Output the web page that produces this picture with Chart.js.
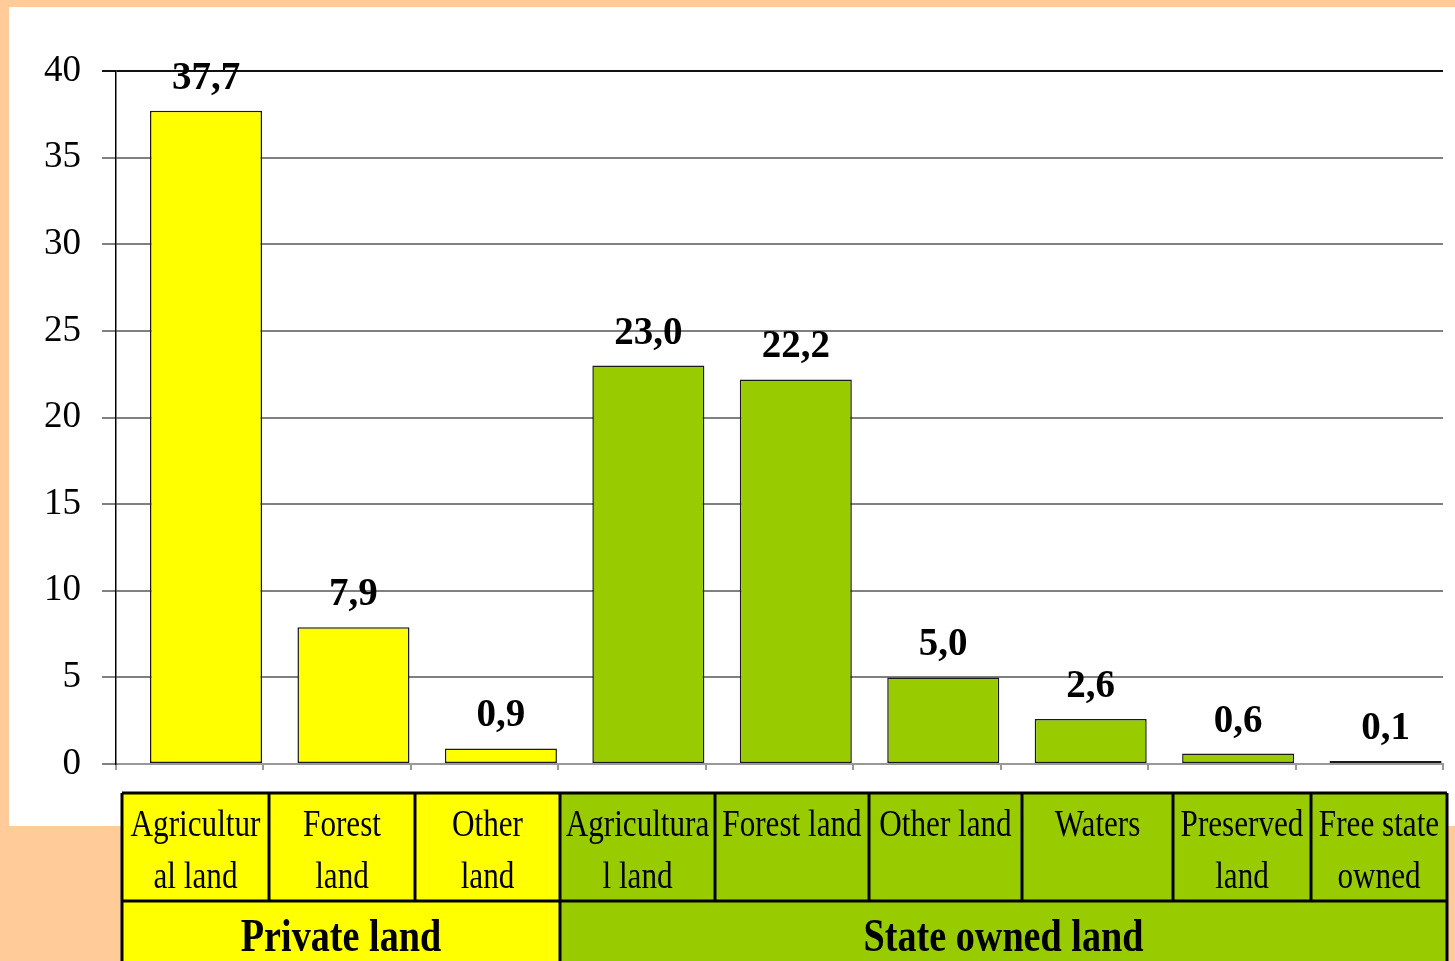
<!DOCTYPE html>
<html><head><meta charset="utf-8">
<script src="https://cdn.jsdelivr.net/npm/chart.js@4"></script>
<style>html,body{margin:0;padding:0;background:#FFCC99;overflow:hidden}#wrap{position:absolute;left:0;top:0;width:1455px;height:961px}</style>
</head><body><div id="wrap"><canvas id="c" width="1455" height="961"></canvas></div>
<script>
// ---- data ----
const categories = ["Agricultural land","Forest land","Other land","Agricultural land","Forest land","Other land","Waters","Preserved land","Free state owned"];
const categoryLines = [["Agricultur","al land"],["Forest","land"],["Other","land"],["Agricultura","l land"],["Forest land"],["Other land"],["Waters"],["Preserved","land"],["Free state","owned"]];
const values = [37.7, 7.9, 0.9, 23.0, 22.2, 5.0, 2.6, 0.6, 0.1];
const spacer = [null, null, null, null, null, null, null, null, null]; // empty slot that pushes the bars right of the category centre, as in the source
const groups = ["Private land", "State owned land"];
const groupSizes = [3, 6];
const yMin = 0, yMax = 40, yStep = 5;

// ---- layout / style ----
const PEACH = "#FFCC99", YELLOW = "#FFFF00", GREEN = "#99CC00";
const groupColors = [YELLOW, GREEN];
const TABLE_COLS = [122, 269, 415, 560, 715, 869, 1022, 1173, 1311, 1447];
const TABLE_ROWS = [793, 901, 980];
const SERIF = "'Liberation Serif','Times New Roman',serif";

const barGroupIndex = [];
groupSizes.forEach((n, g) => { for (let i = 0; i < n; i++) barGroupIndex.push(g); });

const bgPlugin = {
  id: 'bg',
  beforeDraw(chart) {
    const ctx = chart.ctx;
    ctx.save();
    ctx.fillStyle = PEACH;
    ctx.fillRect(0, 0, chart.width, chart.height);
    ctx.fillStyle = "#FFFFFF";
    ctx.fillRect(9, 7, chart.width - 9, 819);
    ctx.restore();
  }
};

const labelPlugin = {
  id: 'vals',
  afterDatasetsDraw(chart) {
    const ctx = chart.ctx;
    const meta = chart.getDatasetMeta(1);
    ctx.save();
    ctx.font = "bold 39px " + SERIF;
    ctx.fillStyle = "#000";
    ctx.textAlign = "center";
    ctx.textBaseline = "alphabetic";
    meta.data.forEach((bar, i) => {
      const txt = values[i].toFixed(1).replace('.', ',');
      ctx.fillText(txt, bar.x, bar.y - 22);
    });
    const area = chart.chartArea;
    ctx.strokeStyle = "#999999";
    ctx.lineWidth = 2;
    ctx.beginPath();
    ctx.moveTo(area.right, area.bottom);
    ctx.lineTo(area.right, area.bottom + 6);
    ctx.stroke();
    ctx.restore();
  }
};

function drawScaledText(ctx, txt, x, y, sx) {
  ctx.save();
  ctx.translate(x, y);
  ctx.scale(sx, 1);
  ctx.fillText(txt, 0, 0);
  ctx.restore();
}

const tablePlugin = {
  id: 'table',
  afterDraw(chart) {
    const ctx = chart.ctx;
    const C = TABLE_COLS, R = TABLE_ROWS;
    ctx.save();
    for (let i = 0; i < categories.length; i++) {
      ctx.fillStyle = groupColors[barGroupIndex[i]];
      ctx.fillRect(C[i], R[0], C[i + 1] - C[i], R[1] - R[0]);
    }
    let start = 0;
    groupSizes.forEach((n, g) => {
      ctx.fillStyle = groupColors[g];
      ctx.fillRect(C[start], R[1], C[start + n] - C[start], R[2] - R[1]);
      start += n;
    });
    ctx.strokeStyle = "#000";
    ctx.lineWidth = 3;
    ctx.beginPath();
    ctx.moveTo(C[0], R[0]); ctx.lineTo(C[C.length - 1], R[0]);
    ctx.moveTo(C[0], R[1]); ctx.lineTo(C[C.length - 1], R[1]);
    for (let i = 0; i < C.length; i++) {
      ctx.moveTo(C[i], R[0]); ctx.lineTo(C[i], R[1]);
    }
    start = 0;
    ctx.moveTo(C[0], R[1]); ctx.lineTo(C[0], R[2]);
    groupSizes.forEach((n) => {
      start += n;
      ctx.moveTo(C[start], R[1]); ctx.lineTo(C[start], R[2]);
    });
    ctx.stroke();
    ctx.fillStyle = "#000";
    ctx.textAlign = "center";
    ctx.textBaseline = "alphabetic";
    ctx.font = "38px " + SERIF;
    categoryLines.forEach((lines, i) => {
      const cx = (C[i] + C[i + 1]) / 2;
      lines.forEach((ln, k) => drawScaledText(ctx, ln, cx, 836 + k * 52, 0.82));
    });
    ctx.font = "bold 46px " + SERIF;
    start = 0;
    groupSizes.forEach((n, g) => {
      const cx = (C[start] + C[start + n]) / 2;
      drawScaledText(ctx, groups[g], cx, 951, 0.83);
      start += n;
    });
    ctx.restore();
  }
};

new Chart(document.getElementById('c'), {
  type: 'bar',
  data: {
    labels: categories,
    datasets: [{
      label: "spacer",
      data: spacer,
      categoryPercentage: 0.4423,
      barPercentage: 3.436
    }, {
      label: "Share",
      data: values,
      backgroundColor: values.map((v, i) => groupColors[barGroupIndex[i]]),
      borderColor: "#1a1a1a",
      borderWidth: 1.5,
      borderSkipped: false,
      minBarLength: 3,
      categoryPercentage: 0.4423,
      barPercentage: 3.436
    }]
  },
  options: {
    responsive: false,
    animation: false,
    devicePixelRatio: 1,
    layout: { padding: { top: 71, right: 12, bottom: 191, left: 0 } },
    plugins: { legend: { display: false }, tooltip: { enabled: false }, title: { display: false } },
    scales: {
      x: {
        offset: true,
        ticks: { display: false },
        grid: { display: true, drawOnChartArea: false, drawTicks: true, tickLength: 6, color: "#999999", lineWidth: 2, offset: true },
        border: { display: true, color: "#999999", width: 2 },
        afterFit(s) { s.height = 6; }
      },
      y: {
        min: yMin, max: yMax,
        ticks: { stepSize: yStep, color: "#000", font: { family: SERIF, size: 37 }, padding: 21 },
        grid: {
          color: (c) => (c.tick && c.tick.value === yMax) ? "#111111" : "#808080",
          lineWidth: 2, tickLength: 14, drawTicks: true
        },
        border: { display: true, color: "#000", width: 1.5 },
        afterFit(s) { s.width = 116; }
      }
    }
  },
  plugins: [bgPlugin, labelPlugin, tablePlugin]
});
</script>
</body></html>
